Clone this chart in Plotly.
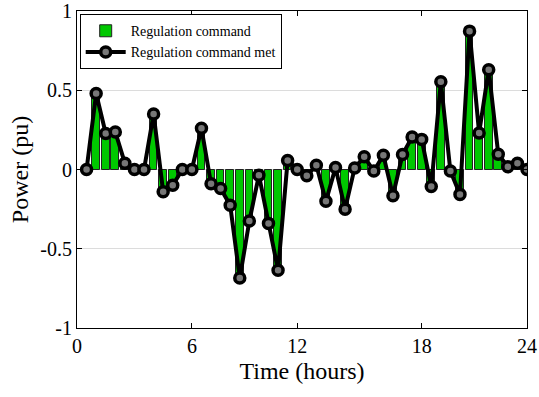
import plotly.graph_objects as go

# sample index (1..47); axis ticks mapped to hours
idx = list(range(1, 48))
command = [0, 0.48, 0.227, 0.237, 0.04, 0, 0, 0.35, -0.14, -0.10,
           0.0, 0.0, 0.26, -0.09, -0.12, -0.225, -0.685, -0.325, -0.036, -0.34,
           -0.635, 0.057, 0.0, -0.04, 0.027, -0.2, 0.012, -0.25, 0.01, 0.08,
           -0.01, 0.09, -0.165, 0.095, 0.205, 0.19, -0.107, 0.553, -0.01, -0.157,
           0.873, 0.23, 0.63, 0.096, 0.017, 0.04, 0]
met = list(command)
tick_pos = [0, 12, 23, 36, 47]
tick_text = ["0", "6", "12", "18", "24"]
y_ticks = [-1, -0.5, 0, 0.5, 1]
y_text = ["-1", "-0.5", "0", "0.5", "1"]

font = "Liberation Serif"

fig = go.Figure()
fig.add_trace(go.Bar(
    x=idx, y=command, name="Regulation command", width=0.8,
    marker=dict(color="#00C800", line=dict(color="#222", width=1)),
))
fig.add_trace(go.Scatter(
    x=idx, y=met, name="Regulation command met", mode="lines+markers",
    line=dict(color="black", width=4),
    marker=dict(symbol="circle", size=10, color="#777",
                line=dict(color="black", width=3.5)),
))

fig.update_layout(
    width=539, height=397,
    margin=dict(l=77, r=12, t=11, b=69, autoexpand=False),
    paper_bgcolor="white", plot_bgcolor="white",
    font=dict(family=font, color="black", size=20),
    showlegend=True,
    bargap=0,
    legend=dict(x=0.006, y=0.99, xanchor="left", yanchor="top",
                bgcolor="white", bordercolor="black", borderwidth=1,
                font=dict(family=font, size=14),
                tracegroupgap=0, itemwidth=40,
                ),
    xaxis=dict(range=[0, 47], tickvals=tick_pos, ticktext=tick_text,
               showgrid=False, zeroline=False, showline=True, linecolor="black",
               linewidth=1, mirror="ticks", ticks="inside", ticklen=5,
               tickcolor="black", automargin=False,
               title=dict(text="Time (hours)", font=dict(size=24), standoff=6)),
    yaxis=dict(range=[-1, 1], tickvals=y_ticks, ticktext=y_text,
               showgrid=True, gridcolor="#dcdcdc", gridwidth=1,
               zeroline=False, showline=True, linecolor="black",
               linewidth=1, mirror="ticks", ticks="inside", ticklen=5,
               tickcolor="black", automargin=False,
               title=dict(text="Power (pu)", font=dict(size=24), standoff=4)),
)

fig.write_html("out.html")
